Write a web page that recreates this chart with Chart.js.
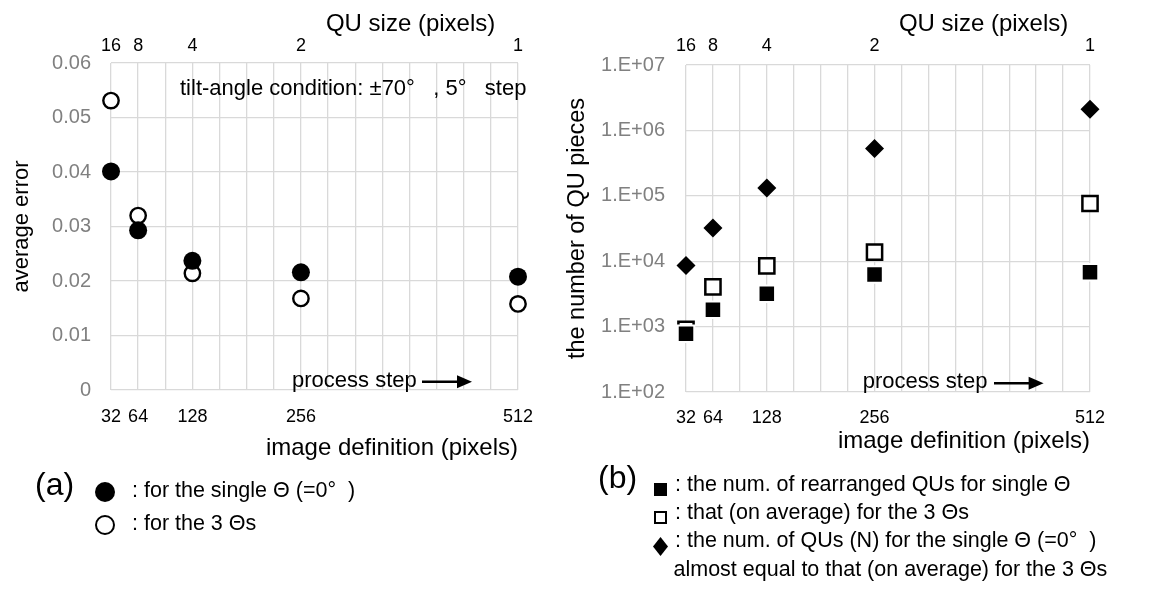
<!DOCTYPE html>
<html><head><meta charset="utf-8">
<script src="https://cdn.jsdelivr.net/npm/chart.js@4.4.1/dist/chart.umd.min.js"></script>
<style>
html,body{margin:0;padding:0;background:#fff;width:1157px;height:599px;overflow:hidden;font-family:"Liberation Sans",Arial,sans-serif;}
#c1{position:absolute;left:0;top:0;}
#c2{position:absolute;left:560px;top:0;}
.t{position:absolute;white-space:pre;font-size:21.5px;line-height:21.5px;color:#000;}
.big{position:absolute;font-size:32px;line-height:32px;color:#000;}
.mk{position:absolute;box-sizing:border-box;}
</style></head>
<body>
<canvas id="c1" width="560" height="470"></canvas>
<canvas id="c2" width="597" height="470"></canvas>

<div class="big" style="left:35px;top:468px;">(a)</div>
<div class="mk" style="left:95px;top:482px;width:20px;height:20px;border-radius:50%;background:#000;"></div>
<div class="t" style="left:132px;top:479.5px;">: for the single Θ (=0°  )</div>
<div class="mk" style="left:95px;top:515px;width:20px;height:20px;border-radius:50%;background:#fff;border:2.5px solid #000;"></div>
<div class="t" style="left:132px;top:513px;">: for the 3 Θs</div>

<div class="big" style="left:598px;top:461px;">(b)</div>
<div class="mk" style="left:653.5px;top:482.5px;width:13px;height:13px;background:#000;"></div>
<div class="t" style="left:675px;top:473.5px;">: the num. of rearranged QUs for single Θ</div>
<div class="mk" style="left:653.5px;top:510.5px;width:13.5px;height:13.5px;background:#fff;border:2px solid #000;"></div>
<div class="t" style="left:675px;top:502px;">: that (on average) for the 3 Θs</div>
<div class="mk" style="left:653px;top:537px;width:15px;height:19px;background:#000;clip-path:polygon(50% 0,100% 50%,50% 100%,0 50%);"></div>
<div class="t" style="left:675px;top:530px;">: the num. of QUs (N) for the single Θ (=0°  )</div>
<div class="t" style="left:673.5px;top:558.5px;">almost equal to that (on average) for the 3 Θs</div>

<script>
// ---- data ----
const imageDefinition = [32, 64, 128, 256, 512];
const quSizeLabels = ['16', '8', '4', '2', '1'];
const errorSingle = [0.0401, 0.0293, 0.0237, 0.0216, 0.0208];
const errorThree = [0.0531, 0.0320, 0.0214, 0.0168, 0.0158];
const errorTicks = [0, 0.01, 0.02, 0.03, 0.04, 0.05, 0.06];
const errorTickLabels = ['0', '0.01', '0.02', '0.03', '0.04', '0.05', '0.06'];
const rearrangedSingle = [776, 1810, 3180, 6240, 6760];
const rearrangedThree = [910, 4060, 8470, 13800, 76200];
const quCount = [8570, 32300, 132000, 530000, 2100000];
const countTicks = [1e2, 1e3, 1e4, 1e5, 1e6, 1e7];
const countTickLabels = ['1.E+02', '1.E+03', '1.E+04', '1.E+05', '1.E+06', '1.E+07'];

const FONT = '"Liberation Sans", Arial, sans-serif';
const GRID = '#d9d9d9';
const xMin = 32, xMax = 512, xGridStep = 32;

function pts(ys) { return imageDefinition.map((x, i) => ({x: x, y: ys[i]})); }
function xGridTicks(scale) {
  const t = [];
  for (let v = xMin; v <= xMax; v += xGridStep) t.push({value: v});
  scale.ticks = t;
}
function bottomLabel(v) { const i = imageDefinition.indexOf(v); return i >= 0 ? String(imageDefinition[i]) : ''; }
function topLabel(v) { const i = imageDefinition.indexOf(v); return i >= 0 ? quSizeLabels[i] : ''; }

function annotations(items) {
  return {
    id: 'annot',
    afterDraw(chart) {
      const ctx = chart.ctx;
      ctx.save();
      ctx.fillStyle = '#000';
      ctx.strokeStyle = '#000';
      for (const it of items) {
        if (it.text) {
          ctx.font = it.size + 'px ' + FONT;
          ctx.textAlign = it.align || 'left';
          ctx.textBaseline = 'alphabetic';
          ctx.fillText(it.text, it.x, it.y);
        } else if (it.arrow) {
          ctx.lineWidth = 2.5;
          ctx.beginPath();
          ctx.moveTo(it.x1, it.y);
          ctx.lineTo(it.x2 - 12, it.y);
          ctx.stroke();
          ctx.beginPath();
          ctx.moveTo(it.x2, it.y);
          ctx.lineTo(it.x2 - 15, it.y - 6.5);
          ctx.lineTo(it.x2 - 15, it.y + 6.5);
          ctx.closePath();
          ctx.fill();
        }
      }
      ctx.restore();
    }
  };
}

Chart.defaults.font.family = FONT;
Chart.defaults.color = '#000';

function xScales(bottomHeight, topHeight, bottomPad, topPad, titlePadBottom) {
  return {
    x: {
      type: 'linear', position: 'bottom', min: xMin, max: xMax,
      afterBuildTicks: xGridTicks,
      afterFit: s => { s.height = bottomHeight; },
      grid: {color: GRID, lineWidth: 1.3, drawTicks: false},
      border: {display: false},
      ticks: {callback: bottomLabel, autoSkip: false, maxRotation: 0, padding: bottomPad, color: '#000', font: {size: 18}},
      title: {display: true, text: 'image definition (pixels)', align: 'end', color: '#000', font: {size: 24}, padding: {top: 0, bottom: titlePadBottom}}
    },
    x2: {
      type: 'linear', axis: 'x', position: 'top', min: xMin, max: xMax,
      afterBuildTicks: xGridTicks,
      afterFit: s => { s.height = topHeight; },
      grid: {display: false, drawTicks: false},
      border: {display: false},
      ticks: {callback: topLabel, autoSkip: false, maxRotation: 0, padding: topPad, color: '#000', font: {size: 18}}
    }
  };
}

// ---- chart (a) ----
new Chart(document.getElementById('c1'), {
  type: 'scatter',
  data: {
    datasets: [
      {label: 'for the single Θ (=0°)', data: pts(errorSingle), order: 0, clip: false,
       pointStyle: 'circle', pointRadius: 9, backgroundColor: '#000', borderColor: '#000', borderWidth: 0},
      {label: 'for the 3 Θs', data: pts(errorThree), order: 1, clip: false,
       pointStyle: 'circle', pointRadius: 7.7, backgroundColor: '#fff', borderColor: '#000', borderWidth: 2.4}
    ]
  },
  options: {
    responsive: false, animation: false, devicePixelRatio: 1, events: [],
    layout: {padding: {left: 0, right: 42, top: 0, bottom: 0}},
    plugins: {legend: {display: false}, tooltip: {enabled: false}},
    scales: Object.assign(xScales(80, 63, 16, 6, 7), {
      y: {
        type: 'linear', min: 0, max: 0.06,
        afterBuildTicks: s => { s.ticks = errorTicks.map(v => ({value: v})); },
        afterFit: s => { s.width = 111; },
        grid: {color: GRID, lineWidth: 1.3, drawTicks: false},
        border: {display: false},
        ticks: {callback: (v, i) => errorTickLabels[i], padding: 20, color: '#808080', font: {size: 20}},
        title: {display: true, text: 'average error', color: '#000', font: {size: 22}, padding: {top: 8.5, bottom: 0}}
      }
    })
  },
  plugins: [annotations([
    {text: 'QU size (pixels)', x: 410.6, y: 30.5, size: 24, align: 'center'},
    {text: 'tilt-angle condition: ±70°   , 5°   step', x: 180, y: 95, size: 22},
    {text: 'process step', x: 292, y: 387, size: 22},
    {arrow: true, x1: 422, x2: 472, y: 381.7}
  ])]
});

// ---- chart (b) ----
new Chart(document.getElementById('c2'), {
  type: 'scatter',
  data: {
    datasets: [
      {label: 'the num. of rearranged QUs for single Θ', data: pts(rearrangedSingle), order: 0, clip: false,
       pointStyle: 'rect', pointRadius: 11.7, backgroundColor: '#000', borderColor: '#fff', borderWidth: 2},
      {label: 'that (on average) for the 3 Θs', data: pts(rearrangedThree), order: 1, clip: false,
       pointStyle: 'rect', pointRadius: 10.75, backgroundColor: '#fff', borderColor: '#000', borderWidth: 2.5},
      {label: 'the num. of QUs (N) for the single Θ (=0°)', data: pts(quCount), order: 2, clip: false,
       pointStyle: 'rectRot', pointRadius: 9.5, backgroundColor: '#000', borderColor: '#000', borderWidth: 0}
    ]
  },
  options: {
    responsive: false, animation: false, devicePixelRatio: 1, events: [],
    layout: {padding: {left: 0, right: 67, top: 0, bottom: 0}},
    plugins: {legend: {display: false}, tooltip: {enabled: false}},
    scales: Object.assign(xScales(78, 65, 15, 8, 13.9), {
      y: {
        type: 'logarithmic', min: 1e2, max: 1e7,
        afterBuildTicks: s => { s.ticks = countTicks.map(v => ({value: v})); },
        afterFit: s => { s.width = 126; },
        grid: {color: GRID, lineWidth: 1.3, drawTicks: false},
        border: {display: false},
        ticks: {callback: (v, i) => countTickLabels[i], padding: 21, color: '#808080', font: {size: 20}},
        title: {display: true, text: 'the number of QU pieces', color: '#000', font: {size: 23.5}, padding: {top: 3, bottom: 0}}
      }
    })
  },
  plugins: [annotations([
    {text: 'QU size (pixels)', x: 423.6, y: 30.5, size: 24, align: 'center'},
    {text: 'process step', x: 302.7, y: 388, size: 22},
    {arrow: true, x1: 434, x2: 483.6, y: 383.3}
  ])]
});
</script>
</body></html>
